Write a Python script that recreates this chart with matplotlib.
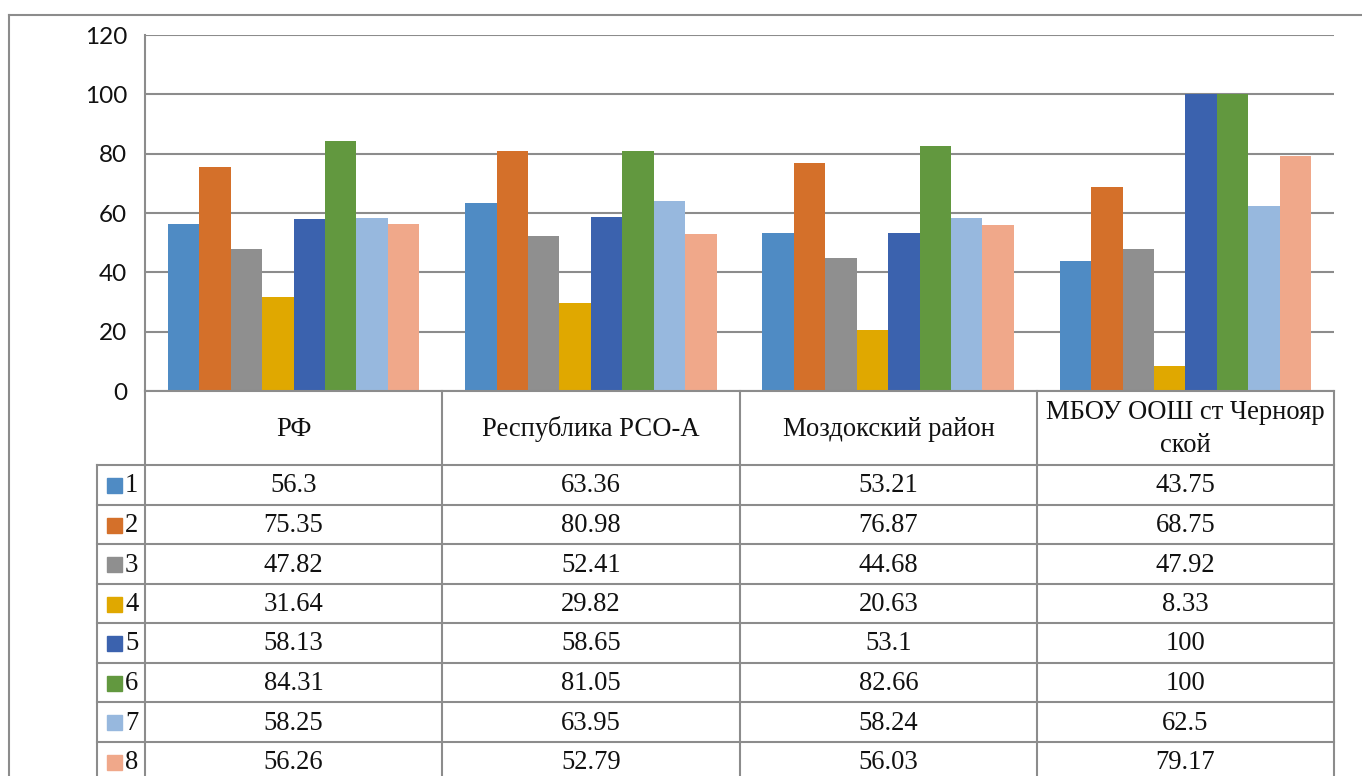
import numpy as np
import matplotlib
matplotlib.use("Agg")
import matplotlib.pyplot as plt
from matplotlib.patches import Rectangle

categories = ["РФ", "Республика РСО-А", "Моздокский район", "МБОУ ООШ ст Черноярской"]
header_labels = ["РФ", "Республика РСО-А", "Моздокский район", "МБОУ ООШ ст Чернояр\nской"]
series_names = ["1", "2", "3", "4", "5", "6", "7", "8"]
s1 = [56.3, 63.36, 53.21, 43.75]
s2 = [75.35, 80.98, 76.87, 68.75]
s3 = [47.82, 52.41, 44.68, 47.92]
s4 = [31.64, 29.82, 20.63, 8.33]
s5 = [58.13, 58.65, 53.1, 100]
s6 = [84.31, 81.05, 82.66, 100]
s7 = [58.25, 63.95, 58.24, 62.5]
s8 = [56.26, 52.79, 56.03, 79.17]
series = [s1, s2, s3, s4, s5, s6, s7, s8]
colors = ["#4F8BC4", "#D4702A", "#8F8F8F", "#E0A800",
          "#3B62AE", "#62983F", "#97B8DE", "#F0A88A"]

W, H = 1362, 776
fig = plt.figure(figsize=(W / 100, H / 100), dpi=100)
grey = "#8c8c8c"

# plot area in pixel coords
L, T, R, B = 145, 35, 1334, 391
ax = fig.add_axes([L / W, 1 - B / H, (R - L) / W, (B - T) / H])

x = np.arange(len(categories))
bw = 0.1057
for i, (vals, c) in enumerate(zip(series, colors)):
    ax.bar(x + (i - 3.5) * bw, vals, width=bw, color=c, edgecolor="none", zorder=3)

ax.set_xlim(-0.5, len(categories) - 0.5)
ax.set_ylim(0, 120)
ax.set_yticks(range(0, 121, 20))
ax.yaxis.grid(True, color=grey, linewidth=1.5, zorder=0)
ax.set_xticks([])
for sp in ["top", "right", "bottom"]:
    ax.spines[sp].set_visible(False)
ax.spines["left"].set_color(grey)
ax.spines["left"].set_linewidth(1.5)
ax.tick_params(axis="y", length=0, pad=13, labelsize=17.5, labelcolor="#111111")
for lab in ax.get_yticklabels():
    lab.set_fontfamily("Lato")


def px(xx, yy):
    return xx / W, 1 - yy / H


def hline(y, x0, x1):
    fig.add_artist(plt.Line2D([x0 / W, x1 / W], [1 - y / H, 1 - y / H],
                              color=grey, linewidth=1.5, transform=fig.transFigure))


def vline(xx, y0, y1):
    fig.add_artist(plt.Line2D([xx / W, xx / W], [1 - y0 / H, 1 - y1 / H],
                              color=grey, linewidth=1.5, transform=fig.transFigure))


# outer frame
hline(15, 9, W)
vline(9, 15, H)

# table
col_edges = [145, 442, 740, 1037, 1334]
row_lines = [465, 505, 544, 584, 623, 663, 702, 742, 781]
hline(391, 145, 1334)
for y in row_lines:
    hline(y, 97, 1334)
for xe in col_edges:
    vline(xe, 391, 781)
vline(97, 465, 781)

tfont = dict(family="Liberation Serif", size=19.2, color="#111111")
for j, lab in enumerate(header_labels):
    xc = (col_edges[j] + col_edges[j + 1]) / 2
    fig.text(*px(xc, 429), lab, ha="center", va="center", linespacing=1.45, **tfont)

for i, (name, vals, c) in enumerate(zip(series_names, series, colors)):
    yc = (row_lines[i] + row_lines[i + 1]) / 2
    fig.add_artist(Rectangle(px(107, yc + 8), 15 / W, 15 / H, color=c,
                             transform=fig.transFigure))
    fig.text(*px(125, yc + 1), name, ha="left", va="center", **tfont)
    for j, v in enumerate(vals):
        xc = (col_edges[j] + col_edges[j + 1]) / 2
        fig.text(*px(xc, yc + 1), f"{v:g}", ha="center", va="center", **tfont)

fig.savefig("out.png", dpi=100)
